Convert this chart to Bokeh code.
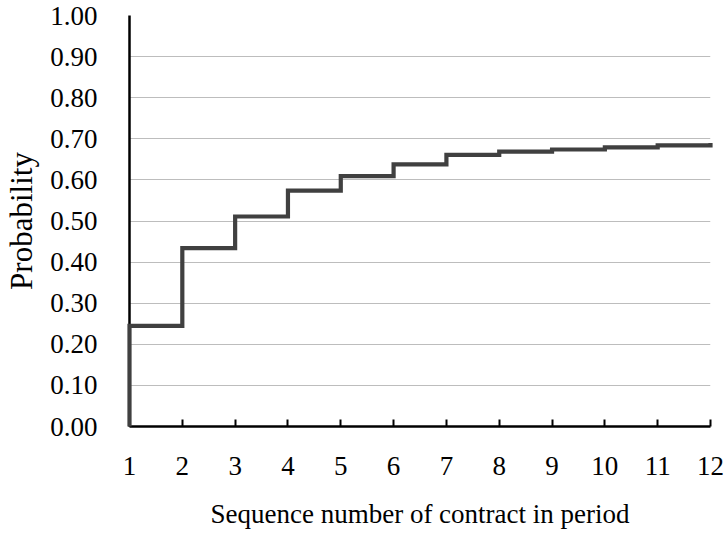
from bokeh.plotting import figure
from bokeh.models import FixedTicker, NumeralTickFormatter, Range1d
from bokeh.embed import file_html
from bokeh.resources import INLINE

# Data
sequence = [1, 2, 3, 4, 5, 6, 7, 8, 9, 10, 11, 12]
probability = [0.245, 0.434, 0.511, 0.574, 0.609, 0.638, 0.661, 0.669, 0.674, 0.679, 0.684, 0.690]
y_ticks = [0.0, 0.1, 0.2, 0.3, 0.4, 0.5, 0.6, 0.7, 0.8, 0.9, 1.0]
x_title = "Sequence number of contract in period"
y_title = "Probability"

FONT = "Liberation Serif"

p = figure(width=728, height=535, output_backend="svg", toolbar_location=None,
           x_range=Range1d(1, 12), y_range=Range1d(0, 1),
           min_border_left=129, min_border_right=18, min_border_top=15, min_border_bottom=109)
p.outline_line_color = None
p.background_fill_color = "white"
p.border_fill_color = "white"

# step line starting from zero at the first contract
xs = [sequence[0]] + sequence
ys = [0.0] + probability
r = p.step(xs, ys, mode="after", line_color="#404040", line_width=4.2,
           line_join="miter", line_cap="butt")
r.level = "overlay"

# grid
p.xgrid.grid_line_color = None
p.ygrid.grid_line_color = "#bdbdbd"
p.ygrid.grid_line_width = 1.2
p.ygrid.ticker = FixedTicker(ticks=y_ticks)

# y axis
p.yaxis.ticker = FixedTicker(ticks=y_ticks)
p.yaxis.formatter = NumeralTickFormatter(format="0.00")
p.yaxis.axis_line_color = "black"
p.yaxis.axis_line_width = 2.5
p.yaxis.major_tick_line_color = None
p.yaxis.minor_tick_line_color = None
p.yaxis.major_label_standoff = 26
p.yaxis.major_label_text_font = FONT
p.yaxis.major_label_text_font_size = "27px"
p.yaxis.major_label_text_color = "black"
p.yaxis.axis_label = y_title
p.yaxis.axis_label_text_font = FONT
p.yaxis.axis_label_text_font_size = "31px"
p.yaxis.axis_label_text_font_style = "normal"
p.yaxis.axis_label_text_color = "black"
p.yaxis.axis_label_standoff = 8

# x axis
p.xaxis.ticker = FixedTicker(ticks=sequence)
p.xaxis.axis_line_color = "black"
p.xaxis.axis_line_width = 2.5
p.xaxis.major_tick_line_color = "black"
p.xaxis.major_tick_line_width = 2
p.xaxis.major_tick_in = 7
p.xaxis.major_tick_out = 0
p.xaxis.minor_tick_line_color = None
p.xaxis.major_label_standoff = 30
p.xaxis.major_label_text_font = FONT
p.xaxis.major_label_text_font_size = "27px"
p.xaxis.major_label_text_color = "black"
p.xaxis.axis_label = x_title
p.xaxis.axis_label_text_font = FONT
p.xaxis.axis_label_text_font_size = "27px"
p.xaxis.axis_label_text_font_style = "normal"
p.xaxis.axis_label_text_color = "black"
p.xaxis.axis_label_standoff = 21

open("out.html", "w").write(file_html(p, INLINE))
